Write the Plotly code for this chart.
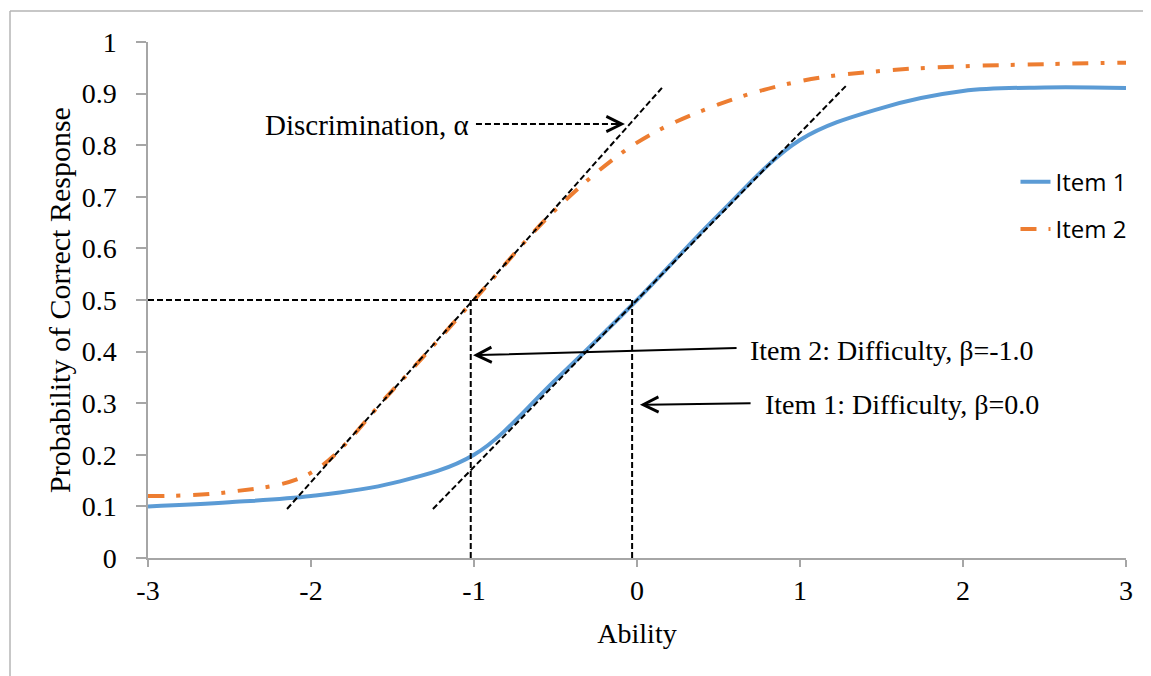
import plotly.graph_objects as go

# ---- data ----
ability = [-3, -2.5, -2, -1.5, -1, -0.5, 0, 0.5, 1, 1.5, 2, 2.5, 3]
item1 = [0.10, 0.108, 0.12, 0.145, 0.20, 0.345, 0.50, 0.665, 0.81, 0.872, 0.905, 0.912, 0.911]
item2 = [0.12, 0.128, 0.165, 0.325, 0.50, 0.675, 0.805, 0.879, 0.924, 0.944, 0.953, 0.957, 0.96]
series_names = ["Item 1", "Item 2"]
x_ticks = [-3, -2, -1, 0, 1, 2, 3]
y_ticks = [0, 0.1, 0.2, 0.3, 0.4, 0.5, 0.6, 0.7, 0.8, 0.9, 1]
y_tick_labels = ["0", "0.1", "0.2", "0.3", "0.4", "0.5", "0.6", "0.7", "0.8", "0.9", "1"]

# guide lines (data coordinates)
tangent2 = dict(x0=-2.147, y0=0.095, x1=0.153, y1=0.911)
tangent1 = dict(x0=-1.252, y0=0.095, x1=1.282, y1=0.915)
half_y = 0.5
beta2 = -1.02
beta1 = -0.03

BLUE = "#5B9BD5"
ORANGE = "#ED7D31"
SERIF = "Liberation Serif, Times New Roman, serif"
SANS = "Open Sans, Lato, sans-serif"
FS = 28

fig = go.Figure()
fig.add_trace(go.Scatter(x=ability, y=item1, name=series_names[0], mode="lines",
                         line=dict(color=BLUE, width=4, shape="spline", smoothing=1.0),
                         legendgroup="a"))
fig.add_trace(go.Scatter(x=ability, y=item2, name=series_names[1], mode="lines",
                         line=dict(color=ORANGE, width=4, shape="spline", smoothing=1.0,
                                   dash="16px,12px,4px,13px"),
                         legendgroup="b"))

dash_line = dict(color="black", width=2, dash="6px,3px")
shapes = [
    dict(type="line", xref="x", yref="y", **tangent2, line=dash_line),
    dict(type="line", xref="x", yref="y", **tangent1, line=dash_line),
    dict(type="line", xref="x", yref="y", x0=-3, y0=half_y, x1=beta1, y1=half_y, line=dash_line),
    dict(type="line", xref="x", yref="y", x0=beta2, y0=half_y, x1=beta2, y1=0, line=dash_line),
    dict(type="line", xref="x", yref="y", x0=beta1, y0=half_y, x1=beta1, y1=0, line=dash_line),
    # discrimination dashed arrow shaft
    dict(type="line", xref="x", yref="y", x0=-0.988, y0=0.841, x1=-0.10, y1=0.841, line=dash_line),
    # chart border (cropped frame)
    dict(type="line", xref="paper", yref="paper", x0=-0.1411, y0=1.06, x1=1.05, y1=1.06,
         line=dict(color="#b5b5b5", width=1.5)),
    dict(type="line", xref="paper", yref="paper", x0=-0.1411, y0=1.06, x1=-0.1411, y1=-0.25,
         line=dict(color="#b5b5b5", width=1.5)),
]

annotations = [
    dict(x=-1.02, y=0.84, xref="x", yref="y", text="Discrimination, α", showarrow=False,
         xanchor="right", yanchor="middle", font=dict(family=SERIF, size=29, color="black")),
    dict(x=-0.074, y=0.841, ax=-0.15, ay=0.841, xref="x", yref="y", axref="x", ayref="y",
         text="", showarrow=True, arrowhead=5, arrowwidth=2, arrowsize=1.5, arrowcolor="black",
         standoff=0, startstandoff=0),
    dict(x=0.681, y=0.403, xref="x", yref="y", text="Item 2: Difficulty, β=-1.0", showarrow=False,
         xanchor="left", yanchor="middle", font=dict(family=SERIF, size=FS, color="black")),
    dict(x=-1.006, y=0.393, ax=0.62, ay=0.407, xref="x", yref="y", axref="x", ayref="y",
         text="", showarrow=True, arrowhead=5, arrowwidth=2, arrowsize=1.5, arrowcolor="black",
         standoff=0, startstandoff=0),
    dict(x=0.773, y=0.297, xref="x", yref="y", text="Item 1: Difficulty, β=0.0", showarrow=False,
         xanchor="left", yanchor="middle", font=dict(family=SERIF, size=FS, color="black")),
    dict(x=0.018, y=0.297, ax=0.706, ay=0.300, xref="x", yref="y", axref="x", ayref="y",
         text="", showarrow=True, arrowhead=5, arrowwidth=2, arrowsize=1.5, arrowcolor="black",
         standoff=0, startstandoff=0),
]

fig.update_layout(
    width=1143, height=668,
    margin=dict(l=140, r=25, t=34, b=118),
    paper_bgcolor="white", plot_bgcolor="white",
    shapes=shapes, annotations=annotations,
    showlegend=True,
    legend=dict(x=0.887, y=0.772, xanchor="left", yanchor="top",
                font=dict(family=SANS, size=24, color="black"),
                tracegroupgap=13, bgcolor="rgba(0,0,0,0)"),
    xaxis=dict(range=[-3, 3], tickvals=x_ticks, ticktext=[str(v) for v in x_ticks],
               showgrid=False, zeroline=False, showline=True, linecolor="#a6a6a6", linewidth=1.5,
               ticks="outside", ticklen=7, tickcolor="#a6a6a6", tickwidth=1.5,
               tickfont=dict(family=SERIF, size=FS, color="black"),
               title=dict(text="Ability", font=dict(family=SERIF, size=FS, color="black"), standoff=18)),
    yaxis=dict(range=[0, 1], tickvals=y_ticks, ticktext=y_tick_labels,
               showgrid=False, zeroline=False, showline=True, linecolor="#a6a6a6", linewidth=1.5,
               ticks="outside", ticklen=10, tickcolor="#a6a6a6", tickwidth=1.5,
               ticklabelstandoff=14,
               tickfont=dict(family=SERIF, size=FS, color="black"),
               title=dict(text="Probability of Correct Response",
                          font=dict(family=SERIF, size=30, color="black"), standoff=2)),
)

fig.write_html("out.html")
